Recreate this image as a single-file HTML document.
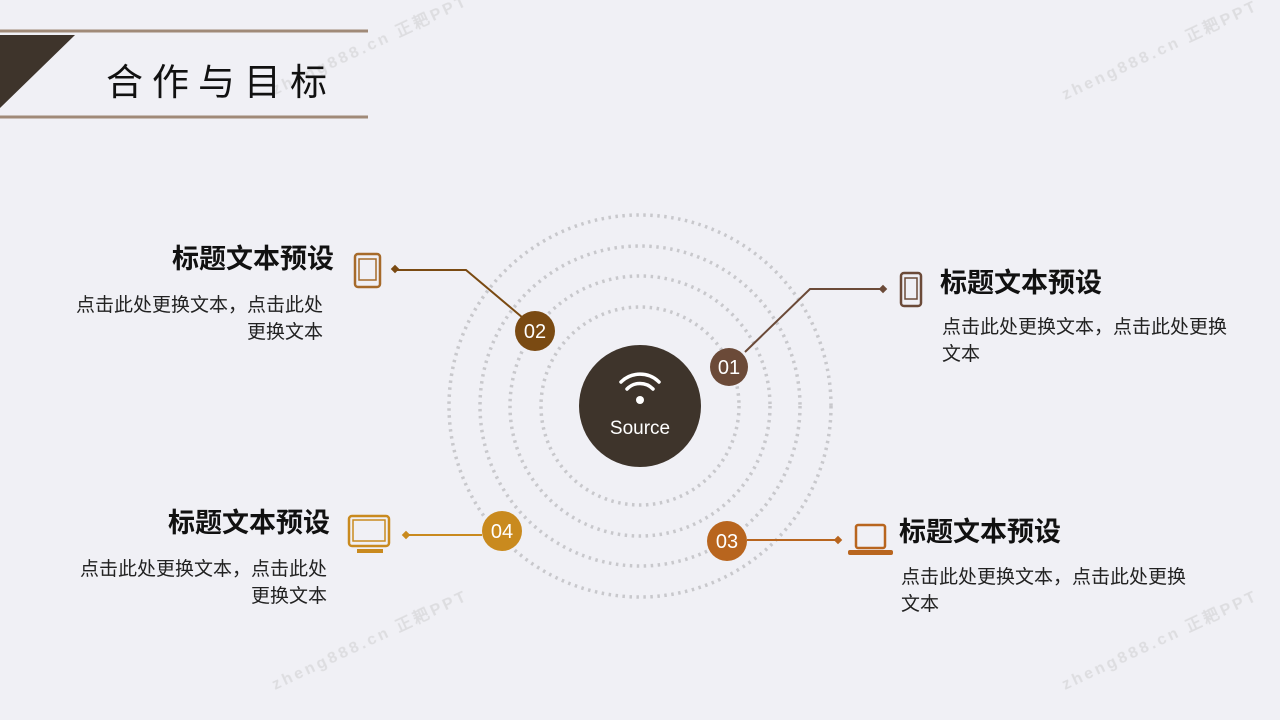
<!DOCTYPE html>
<html><head><meta charset="utf-8"><style>
body{margin:0;width:1280px;height:720px;background:#f0f0f5;position:relative;overflow:hidden;font-family:"Liberation Sans","Noto Sans CJK SC",sans-serif}
.t{position:absolute;font-weight:bold;font-size:27px;color:#111;white-space:nowrap;line-height:30px}
.b{position:absolute;font-size:19px;color:#222;line-height:27px;white-space:nowrap}
.r{text-align:right}
svg{position:absolute;left:0;top:0}
</style></head><body>
<svg width="1280" height="720" viewBox="0 0 1280 720">
<line x1="0" y1="31" x2="368" y2="31" stroke="#a08a78" stroke-width="3"/>
<line x1="0" y1="117" x2="368" y2="117" stroke="#a08a78" stroke-width="3"/>
<polygon points="0,35 75,35 0,108" fill="#3e342b"/>
<g fill="none" stroke="#c8c8cc" stroke-width="3.5" stroke-dasharray="2.5 4.5">
<circle cx="640" cy="406" r="191"/><circle cx="640" cy="406" r="160"/>
<circle cx="640" cy="406" r="130"/><circle cx="640" cy="406" r="99"/>
</g>
<circle cx="640" cy="406" r="61" fill="#3e342b"/>
<g fill="none" stroke="#fff" stroke-width="3.5" stroke-linecap="round">
<path d="M621,382 A27,27 0 0 1 659,382"/><path d="M627,389 A18,18 0 0 1 653,389"/>
</g>
<circle cx="640" cy="400" r="4" fill="#fff"/>
<text x="640" y="434" fill="#fff" font-size="19" text-anchor="middle" font-family="Liberation Sans,sans-serif">Source</text>
<g stroke-width="2" fill="none">
<polyline points="396,270 466,270 523,318" stroke="#7a4a12"/>
<polyline points="745,352 810,289 883,289" stroke="#6b4a38"/>
<line x1="406" y1="535" x2="482" y2="535" stroke="#c98a1e"/>
<line x1="747" y1="540" x2="838" y2="540" stroke="#b8651e"/>
</g>
<g>
<rect x="392" y="266" width="6" height="6" transform="rotate(45 395 269)" fill="#7a4a12"/>
<rect x="880" y="286" width="6" height="6" transform="rotate(45 883 289)" fill="#6b4a38"/>
<rect x="403" y="532" width="6" height="6" transform="rotate(45 406 535)" fill="#c98a1e"/>
<rect x="835" y="537" width="6" height="6" transform="rotate(45 838 540)" fill="#b8651e"/>
</g>
<g font-size="20" fill="#fff" text-anchor="middle" font-family="Liberation Sans,sans-serif">
<circle cx="535" cy="331" r="20" fill="#7a4a12"/><text x="535" y="338">02</text>
<circle cx="729" cy="367" r="19" fill="#6b4a38"/><text x="729" y="374">01</text>
<circle cx="502" cy="531" r="20" fill="#c98a1e"/><text x="502" y="538">04</text>
<circle cx="727" cy="541" r="20" fill="#b8651e"/><text x="727" y="548">03</text>
</g>
<g fill="none" stroke-width="2.5">
<rect x="355" y="254" width="25" height="33" rx="3" stroke="#a66a2a"/>
<rect x="359" y="259" width="17" height="21" stroke="#a66a2a" stroke-width="1.5"/>
<rect x="901" y="273" width="20" height="33" rx="3" stroke="#6b4a38"/>
<rect x="905" y="278" width="12" height="21" stroke="#6b4a38" stroke-width="1.5"/>
<rect x="349" y="516" width="40" height="30" rx="3" stroke="#c98a1e"/>
<rect x="353" y="520" width="32" height="21" stroke="#c98a1e" stroke-width="1.5"/>
<rect x="856" y="525" width="29" height="23" rx="2" stroke="#b8651e"/>
</g>
<rect x="357" y="549" width="26" height="4" fill="#c98a1e"/>
<rect x="848" y="550" width="45" height="5" rx="2" fill="#b8651e"/>
<g fill="#bbb" opacity="0.35" font-size="16" font-weight="bold" font-family="Liberation Sans,sans-serif" letter-spacing="3">
<text transform="translate(275,95) rotate(-25)">zheng888.cn 正耙PPT</text>
<text transform="translate(1065,100) rotate(-25)">zheng888.cn 正耙PPT</text>
<text transform="translate(275,690) rotate(-25)">zheng888.cn 正耙PPT</text>
<text transform="translate(1065,690) rotate(-25)">zheng888.cn 正耙PPT</text>
</g>
</svg>
<div style="position:absolute;left:106px;top:52px;font-size:37px;letter-spacing:9px;color:#111">合作与目标</div>
<div class="t r" style="right:946px;top:244px">标题文本预设</div>
<div class="b r" style="right:957px;top:292px">点击此处更换文本，点击此处<br>更换文本</div>
<div class="t" style="left:940px;top:268px">标题文本预设</div>
<div class="b" style="left:942px;top:314px">点击此处更换文本，点击此处更换<br>文本</div>
<div class="t r" style="right:950px;top:508px">标题文本预设</div>
<div class="b r" style="right:953px;top:556px">点击此处更换文本，点击此处<br>更换文本</div>
<div class="t" style="left:899px;top:517px">标题文本预设</div>
<div class="b" style="left:901px;top:564px">点击此处更换文本，点击此处更换<br>文本</div>
</body></html>
